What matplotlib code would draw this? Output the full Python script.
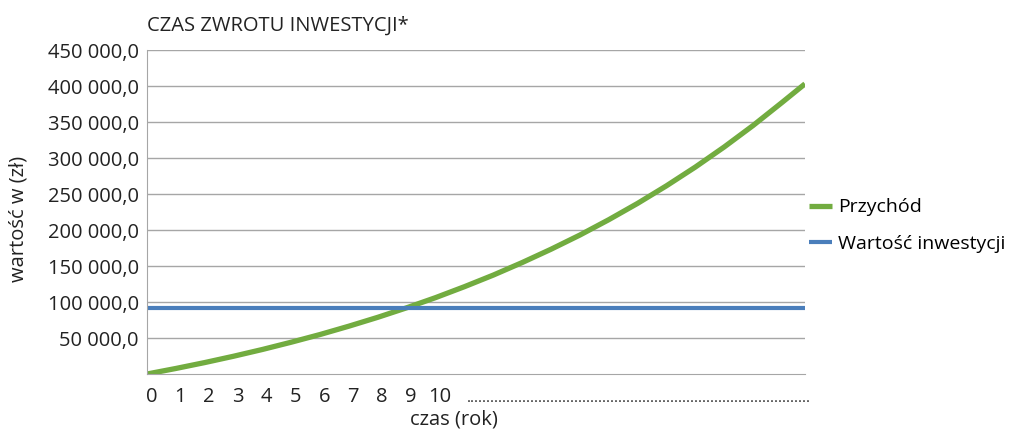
import matplotlib.pyplot as plt
from matplotlib.ticker import FuncFormatter

# dane
lata = [0, 1, 2, 3, 4, 5, 6, 7, 8, 9, 10, 11, 12, 13, 14, 15, 16, 17, 18, 19, 20, 21, 22, 22.8]
przychod = [0, 7700, 15900, 24700, 34100, 44200, 54900, 66500, 78800, 92000, 106100,
            121300, 137400, 154800, 173300, 193000, 214300, 237000, 261400, 287400,
            315300, 345100, 377000, 403000]
wartosc_inwestycji = [92000] * len(lata)
etykiety_x = ['0', '1', '2', '3', '4', '5', '6', '7', '8', '9', '10']
y_ticks = [50000, 100000, 150000, 200000, 250000, 300000, 350000, 400000, 450000]

plt.rcParams['font.family'] = ['Open Sans', 'DejaVu Sans']


def fmt_pl(v, pos):
    return '{:,.1f}'.format(v).replace(',', ' ').replace('.', ',')


def main():
    fig = plt.figure(figsize=(10.16, 4.30), dpi=100)
    ax = fig.add_axes([0.1447, 0.1302, 0.6476, 0.7535])

    ax.plot(lata, przychod, color='#72AC40', lw=3.8, label='Przychód', solid_capstyle='butt')
    ax.plot(lata, wartosc_inwestycji, color='#4A7EBB', lw=3.0, label='Wartość inwestycji',
            solid_capstyle='butt')

    ax.set_xlim(0, 22.8)
    ax.set_ylim(0, 450000)
    ax.set_yticks(y_ticks)
    ax.yaxis.set_major_formatter(FuncFormatter(fmt_pl))
    ax.set_xticks([i + 0.15 for i in range(len(etykiety_x))])
    ax.set_xticklabels(etykiety_x)
    ax.tick_params(axis='both', length=0, labelsize=14.5, colors='#222222', pad=6)
    ax.tick_params(axis='x', pad=9)
    ax.grid(axis='y', color='#A6A6A6', lw=1)
    ax.set_axisbelow(True)
    for s in ['top', 'right']:
        ax.spines[s].set_visible(False)
    ax.spines['left'].set_color('#A6A6A6')
    ax.spines['bottom'].set_color('#A6A6A6')

    ax.text(11.1, -0.075, '.' * 86, transform=ax.get_xaxis_transform(), fontsize=11,
            ha='left', va='center', color='#222222')

    fig.text(0.1447, 0.94, 'CZAS ZWROTU INWESTYCJI*', fontsize=14.5, ha='left', va='center',
             color='#222222')
    fig.text(0.447, 0.025, 'czas (rok)', fontsize=14.5, ha='center', va='center', color='#222222')
    fig.text(0.018, 0.49, 'wartość w (zł)', fontsize=14.5, rotation=90, ha='center', va='center',
             color='#222222')

    ax.legend(loc='center left', bbox_to_anchor=(1.0, 0.458), frameon=False, fontsize=14,
              handlelength=1.2, handletextpad=0.3, labelspacing=0.95, borderaxespad=0.0,
              borderpad=0.2)

    fig.savefig('out.png', dpi=100)


if __name__ == '__main__':
    main()
